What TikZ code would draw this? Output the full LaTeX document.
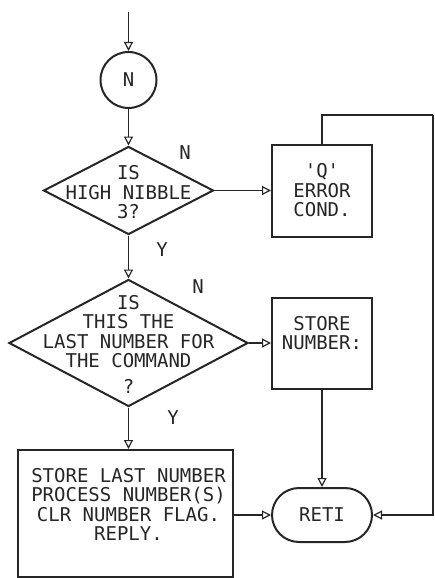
\documentclass[tikz,border=0pt]{standalone}
\usepackage{fontspec}
\setmonofont{DejaVu Sans Mono}
\usetikzlibrary{arrows.meta}
\usetikzlibrary{shapes.geometric}
\usetikzlibrary{positioning}

\tikzset{
	shp/.style={draw=black!85, line width=2pt, inner sep=0pt},
	txt/.style={font=\ttfamily\fontsize{19}{19.5}\selectfont, align=center, inner sep=0pt, text=black!85},
	arr/.style={draw=black!85, line width=1.2pt, -{Triangle[open,length=9pt,width=9pt]}},
	lnk/.style={draw=black!85, line width=1.2pt},
}

\begin{document}
\begin{tikzpicture}[x=1pt,y=-1pt]
	\useasboundingbox (0,0) rectangle (435,578);
	% shapes
	\coordinate (top) at (128.5,12);
	\node[shp, circle, minimum size=56pt] (entry) at (128.5,80) {};
	\node[shp, diamond, minimum width=170pt, minimum height=88pt] (nibble) at (128.5,190.5) {};
	\node[shp, diamond, minimum width=239pt, minimum height=127pt] (last) at (128.5,343) {};
	\node[shp, rectangle, minimum width=100pt, minimum height=92pt] (qerr) at (322,190.5) {};
	\node[shp, rectangle, minimum width=100pt, minimum height=91pt] (store) at (322,343) {};
	\node[shp, rectangle, minimum width=215pt, minimum height=127pt] (proc) at (125.5,513.5) {};
	\node[shp, rectangle, rounded corners=27pt, minimum width=100pt, minimum height=54pt] (reti) at (322,515) {};
	\coordinate (loop) at (433,115);
	% texts
	\node[txt] (entrytxt) at (entry) {N};
	\node[txt] (nibbletxt) at ([yshift=-2pt]nibble.center) {IS\\HIGH NIBBLE\\3?};
	\node[txt] (lasttxt) at ([yshift=-1pt]last.center) {IS\\THIS THE\\LAST NUMBER FOR\\THE COMMAND\\[6pt]?};
	\node[txt] (qerrtxt) at (qerr) {'Q'\\ERROR\\COND.};
	\node[txt] (storetxt) at ([yshift=10pt]store.center) {STORE\\NUMBER:};
	\node[txt] (proctxt) at ([xshift=3pt,yshift=9pt]proc.center) {STORE LAST NUMBER\\PROCESS NUMBER(S)\\CLR NUMBER FLAG.\\REPLY.};
	\node[txt] (retitxt) at (reti) {RETI};
	% labels
	\node[txt] (n1) at (185,153) {N};
	\node[txt] (y1) at (162,250) {Y};
	\node[txt] (n2) at (198,287) {N};
	\node[txt] (y2) at (173,418) {Y};
	% connectors
	\draw[arr] (top) -- (entry.north);
	\draw[arr] (entry.south) -- (nibble.north);
	\draw[arr] (nibble.south) -- (last.north);
	\draw[arr] (last.south) -- (last.south |- proc.north);
	\draw[arr] (nibble.east) -- (qerr.west);
	\draw[arr] (last.east) -- (store.west);
	\draw[arr] (store.south) -- (reti.north);
	\draw[arr] (proc.east |- reti.west) -- (reti.west);
	\draw[lnk] (qerr.north) |- (loop);
	\draw[arr] (loop) |- (reti.east);
\end{tikzpicture}
\end{document}
